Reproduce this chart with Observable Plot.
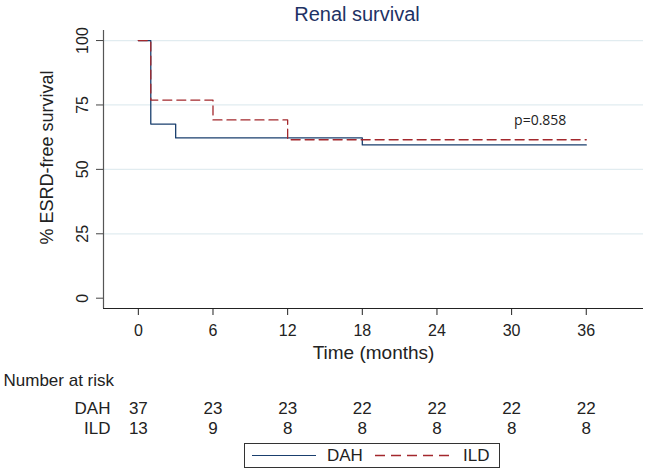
<!DOCTYPE html>
<html>
<head>
<meta charset="utf-8">
<script src="https://cdn.jsdelivr.net/npm/d3@7"></script>
<script src="https://cdn.jsdelivr.net/npm/@observablehq/plot@0.6"></script>
<style>
  html, body { margin: 0; padding: 0; background: white; }
  #wrap { position: relative; width: 645px; height: 469px; font-family: "Liberation Sans", Arial, sans-serif; color: #222; overflow: hidden; }
  #title { height: 28px; line-height: 28px; font-size: 20px; color: #1e3264; text-align: center; padding-left: 69px; box-sizing: border-box; width: 645px; }
  #legend { position: absolute; left: 244px; top: 443px; width: 256px; height: 25px; border: 1px solid #333; box-sizing: border-box; font-size: 17px; }
  #legend .sw { position: absolute; top: 11px; height: 0; }
  #legend .lab { position: absolute; top: 0; line-height: 23px; }
</style>
</head>
<body>
<div id="wrap">
  <div id="title">Renal survival</div>
  <div id="chart"></div>
  <div id="legend">
    <div class="sw" style="left:7px;width:64px;border-top:1.3px solid #1a3f6e;"></div>
    <div class="lab" style="left:82px;">DAH</div>
    <svg class="sw" style="left:130px;top:10px;height:3px;" width="80" height="3"><line x1="0" y1="1.5" x2="80" y2="1.5" stroke="#a3282d" stroke-width="1.3" stroke-dasharray="10,6"/></svg>
    <div class="lab" style="left:218px;">ILD</div>
  </div>
</div>
<script>
// ---- data ----
const xTicks = [0, 6, 12, 18, 24, 30, 36];
const yTicks = [0, 25, 50, 75, 100];
const gridY = [25, 50, 75, 100];
const xDomain = [-2.8, 40.6];
const yDomain = [-4, 103.9];

const dahTime = [0, 1, 3, 18, 36];
const dahSurv = [100, 67.6, 62.2, 59.5, 59.5];
const ildTime = [0, 1, 6, 12, 36];
const ildSurv = [100, 76.9, 69.2, 61.5, 61.5];

const riskTimes = [0, 6, 12, 18, 24, 30, 36];
const riskDAH = [37, 23, 23, 22, 22, 22, 22];
const riskILD = [13, 9, 8, 8, 8, 8, 8];

const pLabel = [{x: 32.3, y: 69, text: "p=0.858"}];

// ---- derived tables ----
const dah = dahTime.map((t, i) => ({t, s: dahSurv[i]}));
const ild = ildTime.map((t, i) => ({t, s: ildSurv[i]}));
const rDAH = riskTimes.map((t, i) => ({t, n: riskDAH[i]}));
const rILD = riskTimes.map((t, i) => ({t, n: riskILD[i]}));

const plot = Plot.plot({
  width: 645,
  height: 412,
  marginTop: 2,
  marginBottom: 132,
  marginLeft: 103,
  marginRight: 2,
  style: {fontFamily: '"Liberation Sans", Arial, sans-serif', fontSize: "16px", color: "#222", background: "white", overflow: "visible"},
  x: {domain: xDomain},
  y: {domain: yDomain},
  marks: [
    Plot.ruleY(gridY, {stroke: "#e1ecf0", strokeWidth: 1.2}),
    Plot.ruleX([xDomain[0]], {stroke: "#555", strokeWidth: 1.2}),
    Plot.ruleY([yDomain[0]], {stroke: "#222", strokeWidth: 1.2}),
    Plot.axisX({ticks: xTicks, tickSize: 7, tickPadding: 9, fontSize: 16, label: null, stroke: "#222"}),
    Plot.axisY({ticks: yTicks, tickSize: 7, tickFormat: () => "", label: null, stroke: "#444"}),
    Plot.text(yTicks, {y: d => d, text: d => String(d), frameAnchor: "left", dx: -21, rotate: -90, textAnchor: "middle", lineAnchor: "middle", fontSize: 16}),
    Plot.text(["% ESRD-free survival"], {frameAnchor: "left", dx: -56, dy: -12, rotate: -90, textAnchor: "middle", lineAnchor: "middle", fontSize: 18}),
    Plot.text(["Time (months)"], {frameAnchor: "bottom", dy: 44, lineAnchor: "middle", fontSize: 19}),
    Plot.text(["Number at risk"], {frameAnchor: "bottom-left", dx: -100, dy: 72, textAnchor: "start", lineAnchor: "middle", fontSize: 17}),
    Plot.text(["DAH"], {frameAnchor: "bottom-left", dx: 7, dy: 100, textAnchor: "end", lineAnchor: "middle", fontSize: 17}),
    Plot.text(["ILD"], {frameAnchor: "bottom-left", dx: 7, dy: 120, textAnchor: "end", lineAnchor: "middle", fontSize: 17}),
    Plot.text(rDAH, {x: "t", text: "n", frameAnchor: "bottom", dy: 100, lineAnchor: "middle", fontSize: 17}),
    Plot.text(rILD, {x: "t", text: "n", frameAnchor: "bottom", dy: 120, lineAnchor: "middle", fontSize: 17}),
    Plot.line(dah, {x: "t", y: "s", curve: "step-after", stroke: "#1a3f6e", strokeWidth: 1.3}),
    Plot.line(ild, {x: "t", y: "s", curve: "step-after", stroke: "#a3282d", strokeWidth: 1.3, strokeDasharray: "9,5"}),
    Plot.text(pLabel, {x: "x", y: "y", text: "text", fontSize: 14, fontFamily: '"Open Sans", sans-serif'})
  ]
});
document.getElementById("chart").appendChild(plot);
</script>
</body>
</html>
